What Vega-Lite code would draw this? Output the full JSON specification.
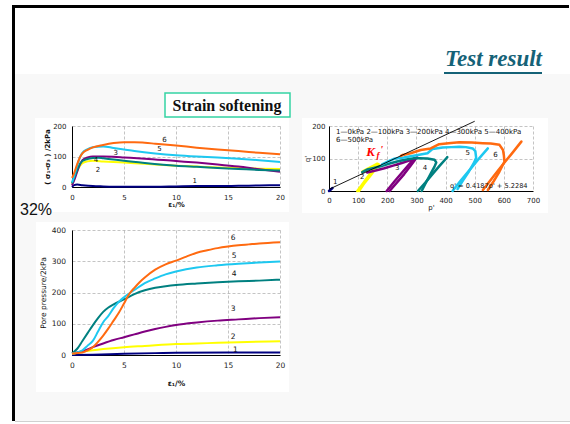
{
  "$schema": "https://vega.github.io/schema/vega-lite/v6.json",
  "background": "white",
  "padding": {"left": 10, "top": 5, "right": 0, "bottom": 0},
  "columns": 2,
  "bounds": "flush",
  "align": "each",
  "spacing": {"row": 39, "column": 49},
  "config": {
    "view": {"stroke": null},
    "font": "DejaVu Sans",
    "axis": {"labelFont": "DejaVu Sans", "labelFontSize": 7, "labelColor": "#222", "titleFont": "DejaVu Sans", "titleFontSize": 7, "titleColor": "#111", "titleFontWeight": "normal", "domainColor": "#000", "domainWidth": 1, "ticks": false, "tickSize": 0, "grid": true, "gridColor": "#aaaaaa", "gridDash": [3, 2], "gridWidth": 0.7, "labelFlush": false, "labelOverlap": false}
  },
  "concat": [
    {
      "width": 208, "height": 75,
      "data": {"values": [{"k": 0}]},
      "layer": [
        {"mark": {"type": "rect", "fill": "#f8f8f8"}, "encoding": {"x": {"datum": -57, "type": "quantitative", "scale": {"domain": [0, 208], "nice": false, "zero": false}, "axis": null}, "x2": {"datum": 498}, "y": {"datum": 62, "type": "quantitative", "scale": {"domain": [0, 75], "nice": false, "zero": false, "reverse": true}, "axis": null}, "y2": {"datum": 409}}},
        {"mark": {"type": "rule", "color": "#d0d0d0", "strokeWidth": 1}, "encoding": {"x": {"datum": -57, "type": "quantitative", "scale": {"domain": [0, 208], "nice": false, "zero": false}, "axis": null}, "x2": {"datum": 498}, "y": {"datum": 409.5, "type": "quantitative", "scale": {"domain": [0, 75], "nice": false, "zero": false, "reverse": true}, "axis": null}}},
        {"mark": {"type": "rect", "fill": "#ffffff"}, "encoding": {"x": {"datum": -37, "type": "quantitative", "scale": {"domain": [0, 208], "nice": false, "zero": false}, "axis": null}, "x2": {"datum": 217}, "y": {"datum": 106, "type": "quantitative", "scale": {"domain": [0, 75], "nice": false, "zero": false, "reverse": true}, "axis": null}, "y2": {"datum": 200}}},
        {"mark": {"type": "rect", "fill": "#ffffff"}, "encoding": {"x": {"datum": 230, "type": "quantitative", "scale": {"domain": [0, 208], "nice": false, "zero": false}, "axis": null}, "x2": {"datum": 476}, "y": {"datum": 106, "type": "quantitative", "scale": {"domain": [0, 75], "nice": false, "zero": false, "reverse": true}, "axis": null}, "y2": {"datum": 201}}},
        {"mark": {"type": "rect", "fill": "#ffffff"}, "encoding": {"x": {"datum": -36, "type": "quantitative", "scale": {"domain": [0, 208], "nice": false, "zero": false}, "axis": null}, "x2": {"datum": 217}, "y": {"datum": 210, "type": "quantitative", "scale": {"domain": [0, 75], "nice": false, "zero": false, "reverse": true}, "axis": null}, "y2": {"datum": 380}}},
        {"mark": {"type": "rule", "color": "#000000", "strokeWidth": 3}, "encoding": {"x": {"datum": -58.5, "type": "quantitative", "scale": {"domain": [0, 208], "nice": false, "zero": false}, "axis": null}, "y": {"datum": -5.5, "type": "quantitative", "scale": {"domain": [0, 75], "nice": false, "zero": false, "reverse": true}, "axis": null}, "y2": {"datum": 409}}},
        {"mark": {"type": "rule", "color": "#000000", "strokeWidth": 3}, "encoding": {"x": {"datum": -60, "type": "quantitative", "scale": {"domain": [0, 208], "nice": false, "zero": false}, "axis": null}, "x2": {"datum": 497}, "y": {"datum": -5.5, "type": "quantitative", "scale": {"domain": [0, 75], "nice": false, "zero": false, "reverse": true}, "axis": null}}},
        {"mark": {"type": "rect", "fill": "#ffffff", "stroke": "#35d4a4", "strokeWidth": 1.5}, "encoding": {"x": {"datum": 93, "type": "quantitative", "scale": {"domain": [0, 208], "nice": false, "zero": false}, "axis": null}, "x2": {"datum": 218}, "y": {"datum": 81, "type": "quantitative", "scale": {"domain": [0, 75], "nice": false, "zero": false, "reverse": true}, "axis": null}, "y2": {"datum": 105}}},
        {"mark": {"type": "text", "font": "Liberation Serif", "fontWeight": "bold", "fontSize": 16, "align": "center", "baseline": "alphabetic", "color": "#111"}, "encoding": {"x": {"datum": 155, "type": "quantitative", "scale": {"domain": [0, 208], "nice": false, "zero": false}, "axis": null}, "y": {"datum": 99, "type": "quantitative", "scale": {"domain": [0, 75], "nice": false, "zero": false, "reverse": true}, "axis": null}, "text": {"value": "Strain softening"}}},
        {"mark": {"type": "text", "font": "Liberation Sans", "fontSize": 16, "align": "left", "baseline": "alphabetic", "color": "#111"}, "encoding": {"x": {"datum": -52, "type": "quantitative", "scale": {"domain": [0, 208], "nice": false, "zero": false}, "axis": null}, "y": {"datum": 203, "type": "quantitative", "scale": {"domain": [0, 75], "nice": false, "zero": false, "reverse": true}, "axis": null}, "text": {"value": "32%"}}}
      ]
    },
    {
      "width": 204, "height": 75,
      "data": {"values": [{"k": 0}]},
      "layer": [
        {"mark": {"type": "text", "font": "Liberation Serif", "fontWeight": "bold", "fontStyle": "italic", "fontSize": 23, "align": "right", "baseline": "alphabetic", "color": "#156277"}, "encoding": {"x": {"datum": 213, "type": "quantitative", "scale": {"domain": [0, 204], "nice": false, "zero": false}, "axis": null}, "y": {"datum": 54, "type": "quantitative", "scale": {"domain": [0, 75], "nice": false, "zero": false, "reverse": true}, "axis": null}, "text": {"value": "Test result"}}},
        {"mark": {"type": "rule", "color": "#156277", "strokeWidth": 1.8}, "encoding": {"x": {"datum": 115, "type": "quantitative", "scale": {"domain": [0, 204], "nice": false, "zero": false}, "axis": null}, "x2": {"datum": 213}, "y": {"datum": 61, "type": "quantitative", "scale": {"domain": [0, 75], "nice": false, "zero": false, "reverse": true}, "axis": null}}}
      ]
    },
    {
      "width": 208, "height": 61,
      "encoding": {
        "x": {"field": "e", "type": "quantitative", "scale": {"domain": [0, 20], "nice": false}, "axis": {"values": [0, 5, 10, 15, 20], "title": "ε₁/%", "titleFontWeight": "bold", "labelPadding": 6, "titlePadding": 0}},
        "y": {"field": "s", "type": "quantitative", "scale": {"domain": [0, 200], "nice": false}, "axis": {"values": [0, 100, 200], "title": "( σ₁-σ₃ ) /2kPa", "titleFontWeight": "bold", "labelPadding": 6, "titlePadding": 2}}
      },
      "layer": [
        {
          "data": {"values": [
            {"c":"1","e":0,"s":0},{"c":"1","e":0.2,"s":6},{"c":"1","e":0.5,"s":8},{"c":"1","e":1,"s":6},{"c":"1","e":2,"s":3},{"c":"1","e":3,"s":2},{"c":"1","e":5,"s":1},{"c":"1","e":8,"s":1},{"c":"1","e":10,"s":2},{"c":"1","e":12,"s":3},{"c":"1","e":14,"s":3},{"c":"1","e":16,"s":4},{"c":"1","e":18,"s":5},{"c":"1","e":20,"s":6},
            {"c":"2","e":0,"s":10},{"c":"2","e":0.3,"s":35},{"c":"2","e":0.6,"s":60},{"c":"2","e":1,"s":78},{"c":"2","e":1.5,"s":84},{"c":"2","e":2,"s":86},{"c":"2","e":3,"s":84},{"c":"2","e":4,"s":82},{"c":"2","e":5,"s":80},{"c":"2","e":7,"s":76},{"c":"2","e":10,"s":70},{"c":"2","e":12,"s":67},{"c":"2","e":14,"s":64},{"c":"2","e":16,"s":62},{"c":"2","e":18,"s":60},{"c":"2","e":20,"s":59},
            {"c":"3","e":0,"s":5},{"c":"3","e":0.3,"s":30},{"c":"3","e":0.6,"s":60},{"c":"3","e":1,"s":88},{"c":"3","e":1.5,"s":97},{"c":"3","e":2,"s":100},{"c":"3","e":3,"s":100},{"c":"3","e":4,"s":99},{"c":"3","e":5,"s":97},{"c":"3","e":7,"s":93},{"c":"3","e":10,"s":85},{"c":"3","e":12,"s":80},{"c":"3","e":14,"s":74},{"c":"3","e":16,"s":67},{"c":"3","e":18,"s":58},{"c":"3","e":20,"s":50},
            {"c":"4","e":0,"s":12},{"c":"4","e":0.3,"s":38},{"c":"4","e":0.6,"s":65},{"c":"4","e":1,"s":85},{"c":"4","e":1.5,"s":92},{"c":"4","e":2,"s":95},{"c":"4","e":2.5,"s":96},{"c":"4","e":3,"s":94},{"c":"4","e":4,"s":90},{"c":"4","e":5,"s":86},{"c":"4","e":7,"s":79},{"c":"4","e":10,"s":70},{"c":"4","e":12,"s":66},{"c":"4","e":14,"s":62},{"c":"4","e":16,"s":59},{"c":"4","e":18,"s":56},{"c":"4","e":20,"s":54},
            {"c":"5","e":0,"s":15},{"c":"5","e":0.2,"s":35},{"c":"5","e":0.5,"s":70},{"c":"5","e":0.8,"s":100},{"c":"5","e":1,"s":112},{"c":"5","e":1.5,"s":124},{"c":"5","e":2,"s":130},{"c":"5","e":3,"s":133},{"c":"5","e":4,"s":128},{"c":"5","e":5,"s":123},{"c":"5","e":6,"s":118},{"c":"5","e":8,"s":110},{"c":"5","e":10,"s":104},{"c":"5","e":12,"s":100},{"c":"5","e":14,"s":97},{"c":"5","e":16,"s":93},{"c":"5","e":18,"s":88},{"c":"5","e":20,"s":82},
            {"c":"6","e":0,"s":30},{"c":"6","e":0.2,"s":45},{"c":"6","e":0.5,"s":75},{"c":"6","e":0.8,"s":100},{"c":"6","e":1,"s":110},{"c":"6","e":1.5,"s":122},{"c":"6","e":2,"s":130},{"c":"6","e":3,"s":138},{"c":"6","e":4,"s":144},{"c":"6","e":5,"s":147},{"c":"6","e":6,"s":147},{"c":"6","e":7,"s":145},{"c":"6","e":8,"s":142},{"c":"6","e":10,"s":136},{"c":"6","e":12,"s":129},{"c":"6","e":14,"s":123},{"c":"6","e":16,"s":118},{"c":"6","e":18,"s":112},{"c":"6","e":20,"s":107}
          ]},
          "mark": {"type": "line", "strokeWidth": 2, "interpolate": "monotone"},
          "encoding": {"color": {"field": "c", "type": "nominal", "scale": {"domain": ["1","2","3","4","5","6"], "range": ["#000080","#ffff00","#800080","#008080","#1ec8f0","#ff6a10"]}, "legend": null}}
        },
        {
          "data": {"values": [{"t":"6","e":8.9,"s":153},{"t":"5","e":8.4,"s":123},{"t":"3","e":4.2,"s":112},{"t":"4","e":2.3,"s":88},{"t":"2","e":2.5,"s":55},{"t":"1","e":11.8,"s":19}]},
          "mark": {"type": "text", "fontSize": 7, "color": "#111"},
          "encoding": {"text": {"field": "t"}}
        }
      ]
    },
    {
      "width": 204, "height": 65,
      "layer": [
        {
          "data": {"values": [
            {"c":"1","g":"1a","o":0,"p":0,"q":0},{"c":"1","g":"1a","o":1,"p":4,"q":3},{"c":"1","g":"1a","o":2,"p":9,"q":7},{"c":"1","g":"1a","o":3,"p":12,"q":9},{"c":"1","g":"1a","o":4,"p":7,"q":5},{"c":"1","g":"1a","o":5,"p":2,"q":2},
            {"c":"2","g":"2a","o":0,"p":97,"q":0},{"c":"2","g":"2a","o":1,"p":112,"q":18},{"c":"2","g":"2a","o":2,"p":128,"q":38},{"c":"2","g":"2a","o":3,"p":145,"q":58},{"c":"2","g":"2a","o":4,"p":160,"q":74},{"c":"2","g":"2a","o":5,"p":171,"q":82},{"c":"2","g":"2a","o":6,"p":166,"q":84},{"c":"2","g":"2a","o":7,"p":155,"q":79},{"c":"2","g":"2a","o":8,"p":140,"q":72},{"c":"2","g":"2a","o":9,"p":125,"q":65},{"c":"2","g":"2a","o":10,"p":114,"q":60},
            {"c":"2","g":"2b","o":0,"p":103,"q":0},{"c":"2","g":"2b","o":1,"p":120,"q":22},{"c":"2","g":"2b","o":2,"p":140,"q":45},{"c":"2","g":"2b","o":3,"p":158,"q":66},{"c":"2","g":"2b","o":4,"p":168,"q":78},
            {"c":"3","g":"3a","o":0,"p":198,"q":0},{"c":"3","g":"3a","o":1,"p":225,"q":30},{"c":"3","g":"3a","o":2,"p":250,"q":56},{"c":"3","g":"3a","o":3,"p":275,"q":82},{"c":"3","g":"3a","o":4,"p":293,"q":100},{"c":"3","g":"3a","o":5,"p":303,"q":103},{"c":"3","g":"3a","o":6,"p":280,"q":95},{"c":"3","g":"3a","o":7,"p":250,"q":86},{"c":"3","g":"3a","o":8,"p":220,"q":78},{"c":"3","g":"3a","o":9,"p":190,"q":70},{"c":"3","g":"3a","o":10,"p":160,"q":63},{"c":"3","g":"3a","o":11,"p":131,"q":57},
            {"c":"3","g":"3b","o":0,"p":208,"q":0},{"c":"3","g":"3b","o":1,"p":235,"q":28},{"c":"3","g":"3b","o":2,"p":258,"q":52},{"c":"3","g":"3b","o":3,"p":280,"q":78},{"c":"3","g":"3b","o":4,"p":296,"q":97},
            {"c":"4","g":"4a","o":0,"p":305,"q":0},{"c":"4","g":"4a","o":1,"p":330,"q":25},{"c":"4","g":"4a","o":2,"p":355,"q":52},{"c":"4","g":"4a","o":3,"p":380,"q":78},{"c":"4","g":"4a","o":4,"p":402,"q":100},{"c":"4","g":"4a","o":5,"p":406,"q":104},
            {"c":"4","g":"4b","o":0,"p":318,"q":0},{"c":"4","g":"4b","o":1,"p":335,"q":30},{"c":"4","g":"4b","o":2,"p":350,"q":55},{"c":"4","g":"4b","o":3,"p":362,"q":75},{"c":"4","g":"4b","o":4,"p":368,"q":88},{"c":"4","g":"4b","o":5,"p":362,"q":96},{"c":"4","g":"4b","o":6,"p":338,"q":100},{"c":"4","g":"4b","o":7,"p":310,"q":101},{"c":"4","g":"4b","o":8,"p":292,"q":101},{"c":"4","g":"4b","o":9,"p":265,"q":97},{"c":"4","g":"4b","o":10,"p":234,"q":91},{"c":"4","g":"4b","o":11,"p":205,"q":84},{"c":"4","g":"4b","o":12,"p":177,"q":76},{"c":"4","g":"4b","o":13,"p":150,"q":70},{"c":"4","g":"4b","o":14,"p":131,"q":66},{"c":"4","g":"4b","o":15,"p":114,"q":58},
            {"c":"5","g":"5a","o":0,"p":424,"q":0},{"c":"5","g":"5a","o":1,"p":450,"q":30},{"c":"5","g":"5a","o":2,"p":480,"q":62},{"c":"5","g":"5a","o":3,"p":510,"q":95},{"c":"5","g":"5a","o":4,"p":545,"q":131},
            {"c":"5","g":"5b","o":0,"p":441,"q":6},{"c":"5","g":"5b","o":1,"p":460,"q":33},{"c":"5","g":"5b","o":2,"p":480,"q":60},{"c":"5","g":"5b","o":3,"p":498,"q":88},{"c":"5","g":"5b","o":4,"p":505,"q":102},{"c":"5","g":"5b","o":5,"p":502,"q":123},{"c":"5","g":"5b","o":6,"p":493,"q":131},{"c":"5","g":"5b","o":7,"p":470,"q":135},{"c":"5","g":"5b","o":8,"p":447,"q":136},{"c":"5","g":"5b","o":9,"p":420,"q":135},{"c":"5","g":"5b","o":10,"p":390,"q":134},{"c":"5","g":"5b","o":11,"p":355,"q":129},{"c":"5","g":"5b","o":12,"p":338,"q":116},{"c":"5","g":"5b","o":13,"p":300,"q":110},{"c":"5","g":"5b","o":14,"p":257,"q":103},{"c":"5","g":"5b","o":15,"p":223,"q":99},{"c":"5","g":"5b","o":16,"p":200,"q":90},{"c":"5","g":"5b","o":17,"p":182,"q":82},
            {"c":"6","g":"6a","o":0,"p":528,"q":3},{"c":"6","g":"6a","o":1,"p":560,"q":40},{"c":"6","g":"6a","o":2,"p":595,"q":80},{"c":"6","g":"6a","o":3,"p":630,"q":118},{"c":"6","g":"6a","o":4,"p":660,"q":152},
            {"c":"6","g":"6b","o":0,"p":545,"q":3},{"c":"6","g":"6b","o":1,"p":565,"q":30},{"c":"6","g":"6b","o":2,"p":585,"q":60},{"c":"6","g":"6b","o":3,"p":602,"q":90},{"c":"6","g":"6b","o":4,"p":600,"q":110},{"c":"6","g":"6b","o":5,"p":597,"q":126},{"c":"6","g":"6b","o":6,"p":585,"q":142},{"c":"6","g":"6b","o":7,"p":555,"q":146},{"c":"6","g":"6b","o":8,"p":528,"q":147},{"c":"6","g":"6b","o":9,"p":490,"q":149},{"c":"6","g":"6b","o":10,"p":447,"q":150},{"c":"6","g":"6b","o":11,"p":410,"q":147},{"c":"6","g":"6b","o":12,"p":378,"q":144},{"c":"6","g":"6b","o":13,"p":349,"q":131},{"c":"6","g":"6b","o":14,"p":315,"q":126},{"c":"6","g":"6b","o":15,"p":280,"q":116},{"c":"6","g":"6b","o":16,"p":253,"q":111},{"c":"6","g":"6b","o":17,"p":247,"q":108}
          ]},
          "mark": {"type": "line", "strokeWidth": 2.5, "strokeCap": "round", "strokeJoin": "round"},
          "encoding": {
            "x": {"field": "p", "type": "quantitative", "scale": {"domain": [0, 700], "nice": false}, "axis": {"values": [0, 100, 200, 300, 400, 500, 600, 700], "title": "p'", "labelPadding": 5, "titlePadding": 0, "labelOverlap": false}},
            "y": {"field": "q", "type": "quantitative", "scale": {"domain": [0, 200], "nice": false}, "axis": {"values": [0, 100, 200], "title": "q'", "labelPadding": 4, "titlePadding": 1, "labelOverlap": false}},
            "color": {"field": "c", "type": "nominal", "scale": {"domain": ["1","2","3","4","5","6"], "range": ["#000080","#ffff00","#800080","#008080","#1ec8f0","#ff6a10"]}, "legend": null},
            "detail": {"field": "g"},
            "order": {"field": "o", "type": "quantitative"}
          }
        },
        {
          "data": {"values": [{"p": 0, "q": 5.2}, {"p": 500, "q": 214.6}]},
          "mark": {"type": "line", "color": "#000000", "strokeWidth": 0.9},
          "encoding": {
            "x": {"field": "p", "type": "quantitative", "scale": {"domain": [0, 700], "nice": false}, "axis": {"values": [0, 100, 200, 300, 400, 500, 600, 700], "title": "p'", "labelPadding": 5, "titlePadding": 0, "labelOverlap": false}},
            "y": {"field": "q", "type": "quantitative", "scale": {"domain": [0, 200], "nice": false}, "axis": {"values": [0, 100, 200], "title": "q'", "labelPadding": 4, "titlePadding": 1, "labelOverlap": false}}
          }
        },
        {
          "data": {"values": [{"t":"1","p":21,"q":29},{"t":"2","p":114,"q":44},{"t":"3","p":234,"q":70},{"t":"4","p":329,"q":72},{"t":"5","p":476,"q":116},{"t":"6","p":571,"q":111}]},
          "mark": {"type": "text", "fontSize": 7, "color": "#111"},
          "encoding": {
            "x": {"field": "p", "type": "quantitative", "scale": {"domain": [0, 700], "nice": false}, "axis": {"values": [0, 100, 200, 300, 400, 500, 600, 700], "title": "p'", "labelPadding": 5, "titlePadding": 0, "labelOverlap": false}},
            "y": {"field": "q", "type": "quantitative", "scale": {"domain": [0, 200], "nice": false}, "axis": {"values": [0, 100, 200], "title": "q'", "labelPadding": 4, "titlePadding": 1, "labelOverlap": false}},
            "text": {"field": "t"}
          }
        },
        {
          "data": {"values": [{"k": 0}]},
          "mark": {"type": "text", "fontSize": 7, "color": "#111", "align": "left", "baseline": "middle"},
          "encoding": {
            "x": {"datum": 24, "type": "quantitative", "scale": {"domain": [0, 700], "nice": false}, "axis": {"values": [0, 100, 200, 300, 400, 500, 600, 700], "title": "p'", "labelPadding": 5, "titlePadding": 0, "labelOverlap": false}},
            "y": {"datum": 182.5, "type": "quantitative", "scale": {"domain": [0, 200], "nice": false}, "axis": {"values": [0, 100, 200], "title": "q'", "labelPadding": 4, "titlePadding": 1, "labelOverlap": false}},
            "text": {"value": "1—0kPa 2—100kPa 3—200kPa 4—300kPa 5—400kPa"}
          }
        },
        {
          "data": {"values": [{"k": 0}]},
          "mark": {"type": "text", "fontSize": 7, "color": "#111", "align": "left", "baseline": "middle"},
          "encoding": {
            "x": {"datum": 24, "type": "quantitative", "scale": {"domain": [0, 700], "nice": false}, "axis": {"values": [0, 100, 200, 300, 400, 500, 600, 700], "title": "p'", "labelPadding": 5, "titlePadding": 0, "labelOverlap": false}},
            "y": {"datum": 157, "type": "quantitative", "scale": {"domain": [0, 200], "nice": false}, "axis": {"values": [0, 100, 200], "title": "q'", "labelPadding": 4, "titlePadding": 1, "labelOverlap": false}},
            "text": {"value": "6—500kPa"}
          }
        },
        {
          "data": {"values": [{"k": 0}]},
          "mark": {"type": "text", "font": "Liberation Serif", "fontWeight": "bold", "fontStyle": "italic", "fontSize": 13, "color": "#ff0000", "align": "left", "baseline": "alphabetic"},
          "encoding": {
            "x": {"datum": 128, "type": "quantitative", "scale": {"domain": [0, 700], "nice": false}, "axis": {"values": [0, 100, 200, 300, 400, 500, 600, 700], "title": "p'", "labelPadding": 5, "titlePadding": 0, "labelOverlap": false}},
            "y": {"datum": 109, "type": "quantitative", "scale": {"domain": [0, 200], "nice": false}, "axis": {"values": [0, 100, 200], "title": "q'", "labelPadding": 4, "titlePadding": 1, "labelOverlap": false}},
            "text": {"value": "K"}
          }
        },
        {
          "data": {"values": [{"k": 0}]},
          "mark": {"type": "text", "font": "Liberation Serif", "fontWeight": "bold", "fontStyle": "italic", "fontSize": 9, "color": "#ff0000", "align": "left", "baseline": "alphabetic"},
          "encoding": {
            "x": {"datum": 163, "type": "quantitative", "scale": {"domain": [0, 700], "nice": false}, "axis": {"values": [0, 100, 200, 300, 400, 500, 600, 700], "title": "p'", "labelPadding": 5, "titlePadding": 0, "labelOverlap": false}},
            "y": {"datum": 103, "type": "quantitative", "scale": {"domain": [0, 200], "nice": false}, "axis": {"values": [0, 100, 200], "title": "q'", "labelPadding": 4, "titlePadding": 1, "labelOverlap": false}},
            "text": {"value": "f"}
          }
        },
        {
          "data": {"values": [{"k": 0}]},
          "mark": {"type": "text", "font": "Liberation Serif", "fontWeight": "bold", "fontStyle": "italic", "fontSize": 11, "color": "#ff0000", "align": "left", "baseline": "top"},
          "encoding": {
            "x": {"datum": 175, "type": "quantitative", "scale": {"domain": [0, 700], "nice": false}, "axis": {"values": [0, 100, 200, 300, 400, 500, 600, 700], "title": "p'", "labelPadding": 5, "titlePadding": 0, "labelOverlap": false}},
            "y": {"datum": 144, "type": "quantitative", "scale": {"domain": [0, 200], "nice": false}, "axis": {"values": [0, 100, 200], "title": "q'", "labelPadding": 4, "titlePadding": 1, "labelOverlap": false}},
            "text": {"value": "'"}
          }
        },
        {
          "data": {"values": [{"k": 0}]},
          "mark": {"type": "text", "fontSize": 6.6, "color": "#111", "align": "left", "baseline": "middle"},
          "encoding": {
            "x": {"datum": 415, "type": "quantitative", "scale": {"domain": [0, 700], "nice": false}, "axis": {"values": [0, 100, 200, 300, 400, 500, 600, 700], "title": "p'", "labelPadding": 5, "titlePadding": 0, "labelOverlap": false}},
            "y": {"datum": 15.4, "type": "quantitative", "scale": {"domain": [0, 200], "nice": false}, "axis": {"values": [0, 100, 200], "title": "q'", "labelPadding": 4, "titlePadding": 1, "labelOverlap": false}},
            "text": {"value": "q' = 0.4187p' + 5.2284"}
          }
        }
      ]
    },
    {
      "width": 208, "height": 125,
      "encoding": {
        "x": {"field": "e", "type": "quantitative", "scale": {"domain": [0, 20], "nice": false}, "axis": {"values": [0, 5, 10, 15, 20], "title": "ε₁/%", "titleFontWeight": "bold", "labelFontSize": 7.5, "titleFontSize": 7.5, "labelPadding": 6.5, "titlePadding": 10}},
        "y": {"field": "u", "type": "quantitative", "scale": {"domain": [0, 400], "nice": false}, "axis": {"values": [0, 100, 200, 300, 400], "title": "Pore pressure/2kPa", "labelFontSize": 7.5, "titleFontSize": 7.5, "labelPadding": 6.5, "titlePadding": 4}}
      },
      "layer": [
        {
          "data": {"values": [
            {"c":"1","e":0,"u":0},{"c":"1","e":2,"u":1},{"c":"1","e":5,"u":4},{"c":"1","e":8,"u":6},{"c":"1","e":10,"u":7},{"c":"1","e":15,"u":8},{"c":"1","e":20,"u":8},
            {"c":"2","e":0,"u":3},{"c":"2","e":1,"u":10},{"c":"2","e":2,"u":15},{"c":"2","e":3,"u":19},{"c":"2","e":5,"u":25},{"c":"2","e":7,"u":29},{"c":"2","e":10,"u":35},{"c":"2","e":13,"u":38},{"c":"2","e":16,"u":41},{"c":"2","e":20,"u":44},
            {"c":"3","e":0,"u":5},{"c":"3","e":1,"u":12},{"c":"3","e":2,"u":25},{"c":"3","e":3,"u":37},{"c":"3","e":4,"u":48},{"c":"3","e":5,"u":57},{"c":"3","e":6,"u":66},{"c":"3","e":7,"u":75},{"c":"3","e":8,"u":83},{"c":"3","e":9,"u":90},{"c":"3","e":10,"u":96},{"c":"3","e":12,"u":104},{"c":"3","e":14,"u":110},{"c":"3","e":16,"u":114},{"c":"3","e":18,"u":118},{"c":"3","e":20,"u":121},
            {"c":"4","e":0,"u":5},{"c":"4","e":0.5,"u":20},{"c":"4","e":1,"u":45},{"c":"4","e":1.5,"u":70},{"c":"4","e":2,"u":95},{"c":"4","e":2.5,"u":118},{"c":"4","e":3,"u":138},{"c":"4","e":3.5,"u":152},{"c":"4","e":4,"u":162},{"c":"4","e":5,"u":178},{"c":"4","e":6,"u":195},{"c":"4","e":7,"u":207},{"c":"4","e":8,"u":215},{"c":"4","e":9,"u":220},{"c":"4","e":10,"u":224},{"c":"4","e":12,"u":229},{"c":"4","e":14,"u":233},{"c":"4","e":16,"u":236},{"c":"4","e":18,"u":238},{"c":"4","e":20,"u":241},
            {"c":"5","e":0,"u":5},{"c":"5","e":1,"u":15},{"c":"5","e":1.5,"u":30},{"c":"5","e":2,"u":45},{"c":"5","e":2.5,"u":75},{"c":"5","e":3,"u":105},{"c":"5","e":3.5,"u":125},{"c":"5","e":4,"u":150},{"c":"5","e":4.5,"u":170},{"c":"5","e":5,"u":185},{"c":"5","e":6,"u":208},{"c":"5","e":7,"u":230},{"c":"5","e":8,"u":245},{"c":"5","e":9,"u":258},{"c":"5","e":10,"u":267},{"c":"5","e":12,"u":280},{"c":"5","e":14,"u":287},{"c":"5","e":16,"u":292},{"c":"5","e":18,"u":296},{"c":"5","e":20,"u":299},
            {"c":"6","e":0,"u":5},{"c":"6","e":1,"u":8},{"c":"6","e":1.5,"u":15},{"c":"6","e":2,"u":25},{"c":"6","e":2.5,"u":42},{"c":"6","e":3,"u":62},{"c":"6","e":3.5,"u":85},{"c":"6","e":4,"u":110},{"c":"6","e":4.5,"u":135},{"c":"6","e":5,"u":165},{"c":"6","e":5.5,"u":195},{"c":"6","e":6,"u":215},{"c":"6","e":6.5,"u":233},{"c":"6","e":7,"u":248},{"c":"6","e":8,"u":273},{"c":"6","e":9,"u":290},{"c":"6","e":10,"u":302},{"c":"6","e":11,"u":315},{"c":"6","e":12,"u":327},{"c":"6","e":13,"u":335},{"c":"6","e":14,"u":342},{"c":"6","e":15,"u":347},{"c":"6","e":16,"u":351},{"c":"6","e":17,"u":354},{"c":"6","e":18,"u":357},{"c":"6","e":20,"u":361}
          ]},
          "mark": {"type": "line", "strokeWidth": 2, "interpolate": "monotone"},
          "encoding": {"color": {"field": "c", "type": "nominal", "scale": {"domain": ["1","2","3","4","5","6"], "range": ["#000080","#ffff00","#800080","#008080","#1ec8f0","#ff6a10"]}, "legend": null}}
        },
        {
          "data": {"values": [{"t":"6","e":15.5,"u":373},{"t":"5","e":15.6,"u":317},{"t":"4","e":15.6,"u":258},{"t":"3","e":15.5,"u":146},{"t":"2","e":15.5,"u":59},{"t":"1","e":15.7,"u":16}]},
          "mark": {"type": "text", "fontSize": 7.5, "color": "#111"},
          "encoding": {"text": {"field": "t"}}
        }
      ]
    }
  ]
}
